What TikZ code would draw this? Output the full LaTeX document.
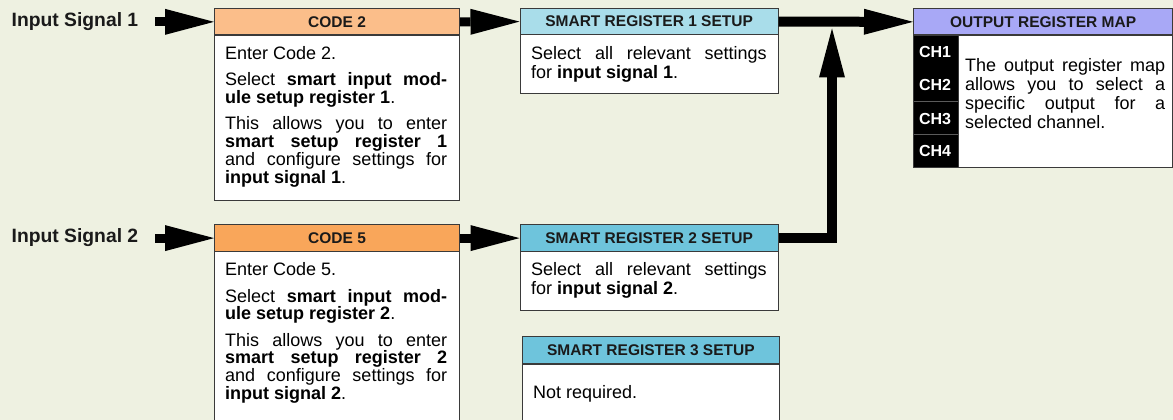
\documentclass[tikz,border=0pt]{standalone}
\usepackage{fontspec}
\setmainfont{Liberation Sans}
\usetikzlibrary{arrows.meta}
\definecolor{bgc}{HTML}{EEF1E1}
\definecolor{boxline}{HTML}{3A3A3A}
\definecolor{hdrtext}{HTML}{1A1A1A}
\definecolor{codeA}{HTML}{FBBE8A}
\definecolor{codeB}{HTML}{F9A65A}
\definecolor{smartA}{HTML}{A9DDEA}
\definecolor{smartB}{HTML}{6EC4DC}
\definecolor{outc}{HTML}{A8A8F6}
\definecolor{sepc}{HTML}{5A5A5A}
\newcommand\hdrfont{\fontsize{15.5pt}{17pt}\selectfont\bfseries}
\newcommand\lblfont{\fontsize{19.3pt}{21pt}\selectfont\bfseries}
\newcommand\chfont{\fontsize{16pt}{17pt}\selectfont\bfseries}
\newcommand\codefont{\fontsize{18pt}{17.7pt}\selectfont}
\newcommand\smartfont{\fontsize{18pt}{19pt}\selectfont}
\newcommand\outfont{\fontsize{18pt}{18.7pt}\selectfont}
\newcommand\pgap{\par\vspace{8.8pt}}
\newcommand\jst{\rightskip=0pt\leftskip=0pt\parfillskip=0pt plus 1fil\relax}
\tikzset{
  hdr/.style={draw=boxline, line width=1.2pt, inner sep=0pt, anchor=north west, font=\hdrfont, text=hdrtext},
  bodybox/.style={draw=boxline, fill=white, line width=1.2pt, inner sep=0pt, anchor=north west},
  bodytxt/.style={inner sep=0pt, anchor=base west, align=justify},
  lbl/.style={inner sep=0pt, anchor=base west, font=\lblfont, text=hdrtext},
  chlbl/.style={inner sep=0pt, anchor=base, font=\chfont, text=white},
  flow/.style={line width=9pt, -{Triangle[length=49pt,width=26pt,line width=0pt]}},
  flowthick/.style={line width=10pt, line join=miter, -{Triangle[length=49pt,width=26pt,line width=0pt]}},
}
\begin{document}
\begin{tikzpicture}[x=1pt,y=-1pt]
\fill[bgc] (0,0) rectangle (1173,420);
\useasboundingbox (0,0) rectangle (1173,420);

% ---- CODE 2 ----
\node[bodybox, minimum width=245pt, minimum height=165.5pt] (c2b) at (214,34.5) {};
\node[hdr, fill=codeA, minimum width=245pt, minimum height=26.5pt] (c2h) at (214,8) {CODE 2};
\node[bodytxt, text width=222pt, font=\codefont] (c2t) at (225,59.3) {\jst Enter Code 2.\pgap
Select \textbf{smart input mod-\linebreak ule setup register 1}.\pgap
This allows you to enter\linebreak \textbf{smart setup register 1}\linebreak and configure settings for\linebreak \textbf{input signal 1}.};

% ---- CODE 5 ----
\node[bodybox, minimum width=245pt, minimum height=190pt] (c5b) at (214,251) {};
\node[hdr, fill=codeB, minimum width=245pt, minimum height=27pt] (c5h) at (214,224) {CODE 5};
\node[bodytxt, text width=222pt, font=\codefont] (c5t) at (225,275.5) {\jst Enter Code 5.\pgap
Select \textbf{smart input mod-\linebreak ule setup register 2}.\pgap
This allows you to enter\linebreak \textbf{smart setup register 2}\linebreak and configure settings for\linebreak \textbf{input signal 2}.};

% ---- SMART REGISTER 1 ----
\node[bodybox, minimum width=258pt, minimum height=59pt] (s1b) at (519.5,34) {};
\node[hdr, fill=smartA, minimum width=258pt, minimum height=26pt] (s1h) at (519.5,8) {SMART REGISTER 1 SETUP};
\node[bodytxt, text width=235.5pt, font=\smartfont] (s1t) at (531,59.3) {\jst Select all relevant settings\linebreak for \textbf{input signal 1}.};

% ---- SMART REGISTER 2 ----
\node[bodybox, minimum width=258pt, minimum height=59pt] (s2b) at (519.5,251) {};
\node[hdr, fill=smartB, minimum width=258pt, minimum height=27pt] (s2h) at (519.5,224) {SMART REGISTER 2 SETUP};
\node[bodytxt, text width=235.5pt, font=\smartfont] (s2t) at (531,275.5) {\jst Select all relevant settings\linebreak for \textbf{input signal 2}.};

% ---- SMART REGISTER 3 ----
\node[bodybox, minimum width=257.5pt, minimum height=80pt] (s3b) at (521.5,363.3) {};
\node[hdr, fill=smartB, minimum width=257.5pt, minimum height=27.3pt] (s3h) at (521.5,336) {SMART REGISTER 3 SETUP};
\node[inner sep=0pt, anchor=base west, font=\smartfont] (s3t) at (533,398.3) {Not required.};

% ---- OUTPUT REGISTER MAP ----
\node[bodybox, minimum width=259pt, minimum height=132.5pt] (ob) at (913,34.5) {};
\node[draw=boxline, line width=1.2pt, fill=black, inner sep=0pt, anchor=north west, minimum width=45pt, minimum height=132.5pt] (chcol) at (913,34.5) {};
\draw[sepc, line width=0.8pt] (914,101) -- (957.5,101);
\draw[sepc, line width=0.8pt] (914,134.3) -- (957.5,134.3);
\node[hdr, fill=outc, minimum width=259pt, minimum height=26.5pt] (oh) at (913,8) {OUTPUT REGISTER MAP};
\node[chlbl] (ch1) at (935,57.3) {CH1};
\node[chlbl] (ch2) at (935,90.7) {CH2};
\node[chlbl] (ch3) at (935,124) {CH3};
\node[chlbl] (ch4) at (935,156.7) {CH4};
\node[bodytxt, text width=200pt, font=\outfont] (ot) at (965,72) {\jst The output register map\linebreak allows you to select a\linebreak specific output for a\linebreak selected channel.};

% ---- input labels ----
\node[lbl] (in1) at (11.5,26.7) {Input Signal 1};
\node[lbl] (in2) at (11.5,242.7) {Input Signal 2};

% ---- connectors ----
\coordinate (j) at (832,28.5);
\draw[flow] ([xshift=17pt]in1.east |- c2h.west) -- (c2h.west);
\draw[flow] ([xshift=17pt]in2.east |- c5h.west) -- (c5h.west);
\draw[flow] (c2h.east) -- (s1h.west);
\draw[flow] (c5h.east) -- (s2h.west);
\draw[flowthick] (s1h.east) -- (oh.west);
\draw[flowthick] (s2h.east) -| (j);
\end{tikzpicture}
\end{document}
